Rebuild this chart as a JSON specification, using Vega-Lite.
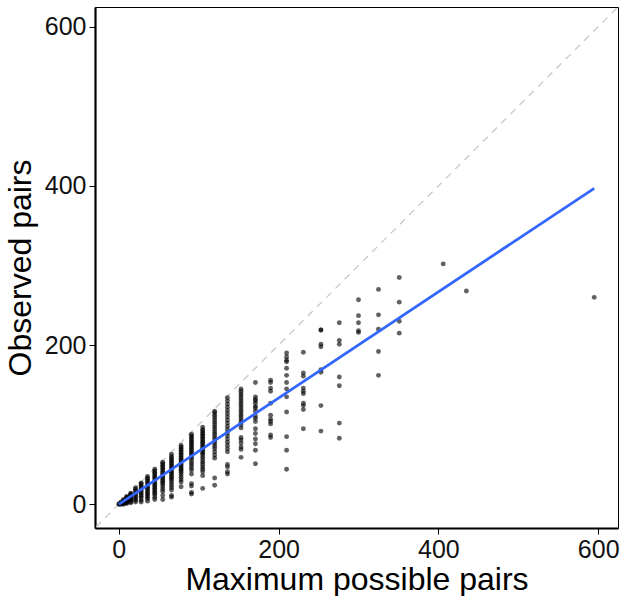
{
  "$schema": "https://vega.github.io/schema/vega-lite/v6.json",
  "width": 523,
  "height": 521,
  "autosize": {"type": "none"},
  "padding": {"left": 95, "top": 7, "right": 4, "bottom": 68},
  "background": "white",
  "config": {
    "view": {"stroke": "black", "strokeWidth": 1},
    "font": "Liberation Sans",
    "axis": {
      "grid": false,
      "domainColor": "black",
      "domainWidth": 2.2,
      "tickColor": "black",
      "tickSize": 6,
      "tickWidth": 1,
      "labelFont": "Liberation Sans",
      "labelFontSize": 25,
      "labelColor": "#111111",
      "labelPadding": 3,
      "titleFont": "Liberation Sans",
      "titleFontSize": 32,
      "titleFontWeight": "normal",
      "titleColor": "black"
    }
  },
  "layer": [
    {
      "data": {"values": [{"x": -40, "y": -40}, {"x": 640, "y": 640}]},
      "mark": {"type": "line", "clip": true, "color": "#C4C4C4", "strokeWidth": 1.2, "strokeDash": [7, 6]},
      "encoding": {
        "x": {"field": "x", "type": "quantitative", "scale": {"domain": [-29.75, 624.75], "nice": false, "zero": false},
              "axis": {"values": [0, 200, 400, 600], "title": "Maximum possible pairs", "titlePadding": 2}},
        "y": {"field": "y", "type": "quantitative", "scale": {"domain": [-29.75, 624.75], "nice": false, "zero": false},
              "axis": {"values": [0, 200, 400, 600], "title": "Observed pairs", "titlePadding": 7}}
      }
    },
    {
      "data": {"values": [
        {"x":0,"y":0},
        {"x":1,"y":0},{"x":1,"y":1},
        {"x":3,"y":0},{"x":3,"y":1},{"x":3,"y":2},{"x":3,"y":3},
        {"x":6,"y":0},{"x":6,"y":1},{"x":6,"y":2},{"x":6,"y":3},{"x":6,"y":4},{"x":6,"y":5},{"x":6,"y":6},
        {"x":10,"y":1},{"x":10,"y":2},{"x":10,"y":3},{"x":10,"y":4},{"x":10,"y":5},{"x":10,"y":6},{"x":10,"y":7},{"x":10,"y":8},{"x":10,"y":9},{"x":10,"y":10},
        {"x":15,"y":2},{"x":15,"y":3},{"x":15,"y":5},{"x":15,"y":6},{"x":15,"y":7},{"x":15,"y":8},{"x":15,"y":9},{"x":15,"y":10},{"x":15,"y":11},{"x":15,"y":12},{"x":15,"y":13},{"x":15,"y":14},
        {"x":21,"y":3},{"x":21,"y":5},{"x":21,"y":7},{"x":21,"y":9},{"x":21,"y":11},{"x":21,"y":13},{"x":21,"y":15},{"x":21,"y":17},{"x":21,"y":19},{"x":21,"y":21},
        {"x":28,"y":3},{"x":28,"y":5},{"x":28,"y":8},{"x":28,"y":10},{"x":28,"y":12},{"x":28,"y":14},{"x":28,"y":16},{"x":28,"y":18},{"x":28,"y":20},{"x":28,"y":22},{"x":28,"y":24},{"x":28,"y":26},{"x":28,"y":27},
        {"x":36,"y":4},{"x":36,"y":7},{"x":36,"y":9},{"x":36,"y":11},{"x":36,"y":13},{"x":36,"y":15},{"x":36,"y":17},{"x":36,"y":19},{"x":36,"y":21},{"x":36,"y":23},{"x":36,"y":25},{"x":36,"y":27},{"x":36,"y":29},{"x":36,"y":31},{"x":36,"y":33},{"x":36,"y":35},
        {"x":45,"y":6},{"x":45,"y":9},{"x":45,"y":12},{"x":45,"y":14},{"x":45,"y":16},{"x":45,"y":18},{"x":45,"y":20},{"x":45,"y":22},{"x":45,"y":24},{"x":45,"y":26},{"x":45,"y":28},{"x":45,"y":30},{"x":45,"y":32},{"x":45,"y":34},{"x":45,"y":36},{"x":45,"y":38},{"x":45,"y":40},{"x":45,"y":42},{"x":45,"y":44},
        {"x":55,"y":6},{"x":55,"y":11},{"x":55,"y":16},{"x":55,"y":19},{"x":55,"y":22},{"x":55,"y":25},{"x":55,"y":27},{"x":55,"y":29},{"x":55,"y":31},{"x":55,"y":33},{"x":55,"y":35},{"x":55,"y":37},{"x":55,"y":39},{"x":55,"y":41},{"x":55,"y":43},{"x":55,"y":45},{"x":55,"y":47},{"x":55,"y":49},{"x":55,"y":51},{"x":55,"y":53},
        {"x":66,"y":9},{"x":66,"y":11},{"x":66,"y":18},{"x":66,"y":21},{"x":66,"y":24},{"x":66,"y":27},{"x":66,"y":30},{"x":66,"y":32},{"x":66,"y":34},{"x":66,"y":36},{"x":66,"y":38},{"x":66,"y":40},{"x":66,"y":42},{"x":66,"y":44},{"x":66,"y":46},{"x":66,"y":48},{"x":66,"y":50},{"x":66,"y":52},{"x":66,"y":54},{"x":66,"y":56},{"x":66,"y":58},{"x":66,"y":60},{"x":66,"y":63},
        {"x":78,"y":22},{"x":78,"y":28},{"x":78,"y":31},{"x":78,"y":34},{"x":78,"y":37},{"x":78,"y":40},{"x":78,"y":42},{"x":78,"y":44},{"x":78,"y":46},{"x":78,"y":48},{"x":78,"y":50},{"x":78,"y":52},{"x":78,"y":54},{"x":78,"y":56},{"x":78,"y":58},{"x":78,"y":60},{"x":78,"y":62},{"x":78,"y":64},{"x":78,"y":66},{"x":78,"y":68},{"x":78,"y":70},{"x":78,"y":72},{"x":78,"y":74},
        {"x":91,"y":13},{"x":91,"y":15},{"x":91,"y":23},{"x":91,"y":26},{"x":91,"y":38},{"x":91,"y":43},{"x":91,"y":46},{"x":91,"y":49},{"x":91,"y":52},{"x":91,"y":55},{"x":91,"y":58},{"x":91,"y":60},{"x":91,"y":62},{"x":91,"y":64},{"x":91,"y":66},{"x":91,"y":68},{"x":91,"y":70},{"x":91,"y":72},{"x":91,"y":74},{"x":91,"y":76},{"x":91,"y":78},{"x":91,"y":80},{"x":91,"y":82},{"x":91,"y":84},{"x":91,"y":86},{"x":91,"y":88},
        {"x":105,"y":20},{"x":105,"y":36},{"x":105,"y":41},{"x":105,"y":44},{"x":105,"y":47},{"x":105,"y":50},{"x":105,"y":53},{"x":105,"y":56},{"x":105,"y":59},{"x":105,"y":62},{"x":105,"y":64},{"x":105,"y":66},{"x":105,"y":68},{"x":105,"y":70},{"x":105,"y":72},{"x":105,"y":74},{"x":105,"y":76},{"x":105,"y":78},{"x":105,"y":80},{"x":105,"y":82},{"x":105,"y":84},{"x":105,"y":86},{"x":105,"y":88},{"x":105,"y":90},{"x":105,"y":92},{"x":105,"y":94},{"x":105,"y":97},
        {"x":120,"y":24},{"x":120,"y":33},{"x":120,"y":58},{"x":120,"y":62},{"x":120,"y":66},{"x":120,"y":70},{"x":120,"y":73},{"x":120,"y":76},{"x":120,"y":79},{"x":120,"y":82},{"x":120,"y":85},{"x":120,"y":88},{"x":120,"y":91},{"x":120,"y":94},{"x":120,"y":97},{"x":120,"y":100},{"x":120,"y":103},{"x":120,"y":106},{"x":120,"y":109},{"x":120,"y":112},{"x":120,"y":115},{"x":120,"y":117},
        {"x":136,"y":38},{"x":136,"y":41},{"x":136,"y":47},{"x":136,"y":50},{"x":136,"y":66},{"x":136,"y":70},{"x":136,"y":74},{"x":136,"y":78},{"x":136,"y":82},{"x":136,"y":86},{"x":136,"y":90},{"x":136,"y":94},{"x":136,"y":98},{"x":136,"y":102},{"x":136,"y":106},{"x":136,"y":110},{"x":136,"y":114},{"x":136,"y":118},{"x":136,"y":122},{"x":136,"y":126},{"x":136,"y":130},{"x":136,"y":134},
        {"x":153,"y":59},{"x":153,"y":69},{"x":153,"y":72},{"x":153,"y":77},{"x":153,"y":81},{"x":153,"y":84},{"x":153,"y":96},{"x":153,"y":100},{"x":153,"y":103},{"x":153,"y":106},{"x":153,"y":109},{"x":153,"y":112},{"x":153,"y":115},{"x":153,"y":118},{"x":153,"y":121},{"x":153,"y":124},{"x":153,"y":127},{"x":153,"y":130},{"x":153,"y":133},{"x":153,"y":136},{"x":153,"y":139},{"x":153,"y":142},{"x":153,"y":145},
        {"x":171,"y":51},{"x":171,"y":68},{"x":171,"y":76},{"x":171,"y":82},{"x":171,"y":89},{"x":171,"y":95},{"x":171,"y":104},{"x":171,"y":108},{"x":171,"y":111},{"x":171,"y":117},{"x":171,"y":121},{"x":171,"y":123},{"x":171,"y":127},{"x":171,"y":130},{"x":171,"y":132},{"x":171,"y":135},{"x":171,"y":153},
        {"x":190,"y":84},{"x":190,"y":87},{"x":190,"y":101},{"x":190,"y":104},{"x":190,"y":107},{"x":190,"y":112},{"x":190,"y":127},{"x":190,"y":142},{"x":190,"y":146},{"x":190,"y":153},{"x":190,"y":156},
        {"x":210,"y":44},{"x":210,"y":68},{"x":210,"y":85},{"x":210,"y":116},{"x":210,"y":135},{"x":210,"y":145},{"x":210,"y":153},{"x":210,"y":162},{"x":210,"y":171},{"x":210,"y":179},{"x":210,"y":181},{"x":210,"y":185},{"x":210,"y":190},
        {"x":231,"y":95},{"x":231,"y":119},{"x":231,"y":124},{"x":231,"y":127},{"x":231,"y":139},{"x":231,"y":142},{"x":231,"y":146},{"x":231,"y":161},{"x":231,"y":165},{"x":231,"y":191},
        {"x":253,"y":92},{"x":253,"y":124},{"x":253,"y":166},{"x":253,"y":169},{"x":253,"y":198},{"x":253,"y":201},{"x":253,"y":219},{"x":253,"y":219},
        {"x":276,"y":83},{"x":276,"y":102},{"x":276,"y":149},{"x":276,"y":160},{"x":276,"y":201},{"x":276,"y":206},{"x":276,"y":228},
        {"x":300,"y":216},{"x":300,"y":218},{"x":300,"y":228},{"x":300,"y":237},{"x":300,"y":257},
        {"x":325,"y":162},{"x":325,"y":192},{"x":325,"y":220},{"x":325,"y":238},{"x":325,"y":270},
        {"x":351,"y":215},{"x":351,"y":230},{"x":351,"y":254},{"x":351,"y":285},
        {"x":406,"y":302},
        {"x":435,"y":268},
        {"x":595,"y":260}
      ]},
      "mark": {"type": "circle", "color": "black", "opacity": 0.62, "size": 24},
      "encoding": {
        "x": {"field": "x", "type": "quantitative"},
        "y": {"field": "y", "type": "quantitative"}
      }
    },
    {
      "data": {"values": [{"x": 0, "y": 0}, {"x": 595, "y": 397}]},
      "mark": {"type": "line", "color": "#3366FF", "strokeWidth": 2.8},
      "encoding": {
        "x": {"field": "x", "type": "quantitative"},
        "y": {"field": "y", "type": "quantitative"}
      }
    }
  ]
}
